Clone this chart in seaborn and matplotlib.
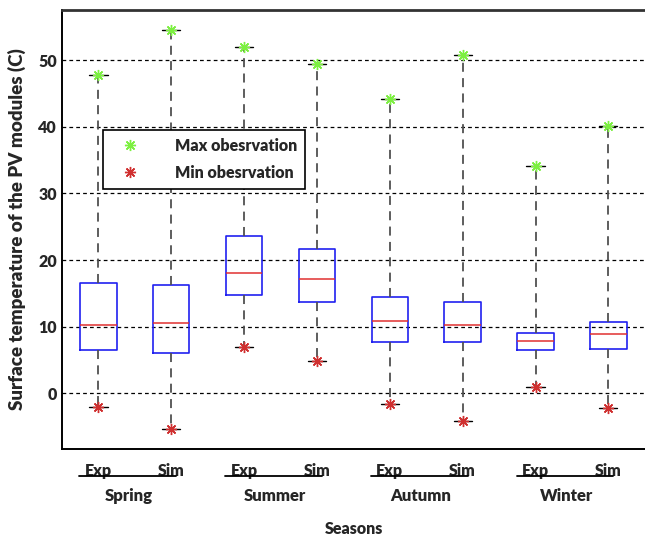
import numpy as np
import pandas as pd
import seaborn as sns
import matplotlib.pyplot as plt
import matplotlib.transforms as mtransforms
from matplotlib.lines import Line2D

seasons = ['Spring', 'Summer', 'Autumn', 'Winter']
sources = ['Exp', 'Sim']
groups = [s + ' ' + src for s in seasons for src in sources]

# five-number summary per box
mins    = [-2.0, -5.3, 6.9, 4.9, -1.6, -4.1, 1.0, -2.2]
q1s     = [6.5, 6.0, 14.8, 13.7, 7.7, 7.7, 6.5, 6.6]
medians = [10.3, 10.5, 18.0, 17.1, 10.9, 10.3, 7.8, 8.9]
q3s     = [16.6, 16.2, 23.6, 21.6, 14.5, 13.7, 9.1, 10.7]
maxs    = [47.8, 54.5, 51.9, 49.4, 44.1, 50.8, 34.1, 40.1]

rows = []
for g, a, b, c, d, e in zip(groups, mins, q1s, medians, q3s, maxs):
    for v in (a, b, c, d, e):
        rows.append({'group': g, 'temp': v})
df = pd.DataFrame(rows)

W = 800  # Lato Heavy, closer to the chunky bold of the original

sns.set_style('white')
plt.rcParams['font.family'] = ['Lato', 'DejaVu Sans']
plt.rcParams['font.weight'] = W

fig = plt.figure(figsize=(6.45, 5.36), dpi=100)
ax = fig.add_axes([0.0961, 0.1623, 0.907, 0.8190])

sns.boxplot(data=df, x='group', y='temp', order=groups, ax=ax,
            fill=False, width=0.5, whis=np.inf, showfliers=False,
            boxprops={'color': '#2020f0', 'linewidth': 1.2},
            medianprops={'color': '#e03030', 'linewidth': 1.1},
            whiskerprops={'color': '#505050', 'linewidth': 1.3,
                          'linestyle': (0, (5, 3.5))},
            capprops={'color': 'black', 'linewidth': 1.0})

pos = np.arange(len(groups))
star = dict(ls='none', marker=(8, 2, 0), ms=8, mew=1.0, zorder=5)
ax.plot(pos, maxs, color='#7cf040', **star)
ax.plot(pos, mins, color='#d03030', **star)

ax.set_xlim(-0.5, 7.53)
ax.set_ylim(-8.35, 57.5)
ax.set_yticks([0, 10, 20, 30, 40, 50])
ax.yaxis.grid(True, color='black', linestyle=(0, (3, 2.5)), linewidth=0.9)
ax.xaxis.grid(False)
ax.set_axisbelow(True)
ax.tick_params(axis='both', length=0, labelsize=11.5)
ax.tick_params(axis='x', pad=10)
ax.set_xticks(pos)
ax.set_xticklabels([src for s in seasons for src in sources], fontweight=W)
for lab in ax.get_yticklabels():
    lab.set_fontweight(W)

ax.set_xlabel('Seasons', fontsize=11.5, fontweight=W, va='center')
ax.xaxis.set_label_coords(0.5, -0.182)
ax.set_ylabel('Surface temperature of the PV modules (C)', fontsize=13.5,
              fontweight=W, va='center')
ax.yaxis.set_label_coords(-0.077, 0.5)

for sp in ax.spines.values():
    sp.set_color('black')
    sp.set_linewidth(1.4)
ax.spines['top'].set_color('#333333')
ax.spines['top'].set_linewidth(2)

trans = mtransforms.blended_transform_factory(ax.transData, ax.transAxes)
for i, s in enumerate(seasons):
    x0 = 2 * i
    ax.plot([x0 - 0.26, x0 + 1.07], [-0.062, -0.062], transform=trans,
            color='black', lw=1.3, clip_on=False)
    ax.text(x0 + 0.42, -0.107, s, transform=trans, ha='center', va='center',
            fontsize=12, fontweight=W)

handles = [Line2D([], [], color='#7cf040', **star),
           Line2D([], [], color='#d03030', **star)]
leg = ax.legend(handles, ['Max obesrvation', 'Min obesrvation'],
                loc='upper left', bbox_to_anchor=(0.070, 0.727),
                frameon=True, fancybox=False, edgecolor='black',
                framealpha=1, fontsize=11.5, handlelength=2.4,
                handletextpad=1.6, borderpad=0.5, labelspacing=0.7,
                borderaxespad=0)
leg.get_frame().set_linewidth(1.2)
for t in leg.get_texts():
    t.set_fontweight(W)

fig.savefig('out.png', dpi=100)
